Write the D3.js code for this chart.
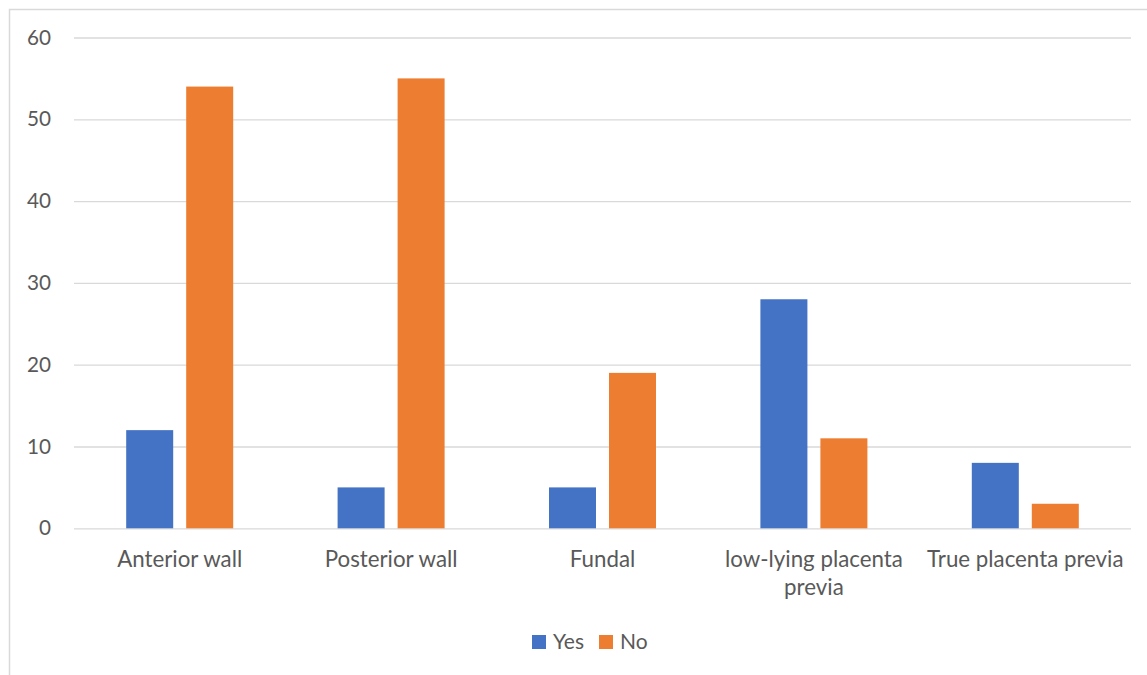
<!DOCTYPE html>
<html>
<head>
<meta charset="utf-8">
<script src="https://cdn.jsdelivr.net/npm/d3@7"></script>
<style>
  html, body { margin: 0; padding: 0; background: #fff; }
  svg { display: block; }
</style>
</head>
<body>
<div id="chart"></div>
<script>
const categories = ["Anterior wall", "Posterior wall", "Fundal", "low-lying placenta previa", "True placenta previa"];
const seriesNames = ["Yes", "No"];
const yesValues = [12, 5, 5, 28, 8];
const noValues = [54, 55, 19, 11, 3];
const yTicks = [0, 10, 20, 30, 40, 50, 60];
const seriesColors = ["#4472C4", "#ED7D31"];

const W = 1147, H = 675;
const FONT = "Lato, 'Open Sans', sans-serif";
const svg = d3.select("#chart").append("svg").attr("width", W).attr("height", H);

svg.append("rect").attr("x", 9.5).attr("y", 9.5).attr("width", 1200).attr("height", 700)
  .attr("fill", "#fff").attr("stroke", "#D9D9D9").attr("stroke-width", 1.5);

const x = d3.scaleBand().domain(categories).range([74, 1131]).padding(0);
const xs = d3.scaleBand().domain(seriesNames).range([0, x.bandwidth()])
  .paddingInner(13 / 60).paddingOuter(0.87);
const y = d3.scaleLinear().domain([0, 60]).range([528.3, 37.5]);

const yAxis = d3.axisLeft(y).tickValues(yTicks).tickSize(-(1131 - 74)).tickPadding(23);
const gy = svg.append("g").attr("transform", "translate(74,0)").call(yAxis);
gy.select(".domain").remove();
gy.selectAll(".tick line").attr("stroke", "#D9D9D9").attr("stroke-width", 1.3);
gy.selectAll(".tick text").attr("fill", "#595959").style("font-family", FONT).style("font-size", "20.7px");

const data = categories.map((c, i) => ({ cat: c, vals: [yesValues[i], noValues[i]] }));
const groups = svg.append("g").selectAll("g").data(data).join("g")
  .attr("transform", d => `translate(${x(d.cat)},0)`);
groups.selectAll("rect").data(d => d.vals.map((v, j) => ({ v, s: seriesNames[j], j })))
  .join("rect")
  .attr("x", d => xs(d.s)).attr("width", xs.bandwidth())
  .attr("y", d => y(d.v)).attr("height", d => y(0) - y(d.v))
  .attr("fill", d => seriesColors[d.j]);

const xAxis = d3.axisBottom(x).tickSize(0).tickPadding(0);
const gx = svg.append("g").attr("transform", "translate(0,528.3)").call(xAxis);
gx.select(".domain").remove();
gx.selectAll(".tick text").remove();
const labelLines = { "low-lying placenta previa": ["low-lying placenta", "previa"] };
gx.selectAll(".tick").each(function(d) {
  const lines = labelLines[d] || [d];
  const t = d3.select(this).append("text").attr("fill", "#595959")
    .style("font-family", FONT).style("font-size", "22.3px").attr("text-anchor", "middle");
  lines.forEach((l, i) => t.append("tspan").attr("x", 0).attr("y", 39 + i * 28).text(l));
});

// legend
const leg = svg.append("g").attr("transform", "translate(532,635)");
const items = leg.selectAll("g").data(seriesNames).join("g")
  .attr("transform", (d, i) => `translate(${i * 67},0)`);
items.append("rect").attr("width", 14).attr("height", 14).attr("fill", (d, i) => seriesColors[i]);
items.append("text").attr("x", 21).attr("y", 14).attr("fill", "#595959")
  .style("font-family", FONT).style("font-size", "21px").text(d => d);
</script>
</body>
</html>
